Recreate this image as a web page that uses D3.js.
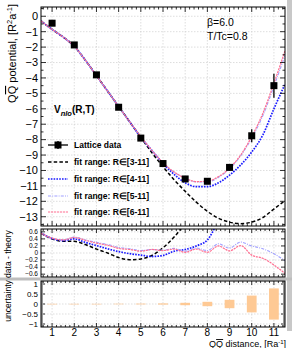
<!DOCTYPE html>
<html><head><meta charset="utf-8">
<script src="https://cdn.jsdelivr.net/npm/d3@7"></script>
<style>
html,body{margin:0;padding:0;background:#fff;}
svg{display:block;font-family:"Liberation Sans",Arial,Helvetica,sans-serif;}
</style></head>
<body>
<svg id="c" width="292" height="348"></svg>
<script>
// ---------- data ----------
const distances = [1,2,3,4,5,6,7,8,9,10,11];
const latticeValues = [-0.45,-1.86,-3.8,-5.9,-7.9,-9.55,-10.55,-10.7,-9.8,-7.75,-4.5];
const latticeErrors = [0.01,0.01,0.01,0.015,0.02,0.03,0.06,0.11,0.21,0.42,0.78];

const fitX = [0.5,1,1.5,2,2.5,3,3.5,4,4.5,5,5.5,6,6.5,7,7.5,8,8.5,9,9.5,10,10.5,11,11.5];
const fit3 = [-0.3,-0.85,-1.35,-1.95,-2.85,-3.85,-4.85,-5.85,-6.85,-7.85,-8.85,-9.75,-10.6,-11.35,-12.05,-12.65,-13.1,-13.35,-13.45,-13.35,-13.05,-12.5,-11.95];
const fit4 = [-0.3,-0.85,-1.35,-1.95,-2.85,-3.85,-4.85,-5.85,-6.85,-7.85,-8.7,-9.55,-10.25,-10.8,-11.05,-11.05,-10.8,-10.3,-9.65,-8.8,-7.7,-6.0,-4.4];
const fit5 = [-0.3,-0.85,-1.35,-1.95,-2.85,-3.85,-4.85,-5.85,-6.85,-7.8,-8.7,-9.5,-10.1,-10.5,-10.75,-10.75,-10.45,-9.9,-9.05,-7.9,-6.45,-4.55,-2.55];
const fit6 = [-0.3,-0.85,-1.35,-1.95,-2.85,-3.85,-4.85,-5.85,-6.85,-7.8,-8.7,-9.5,-10.1,-10.5,-10.72,-10.7,-10.4,-9.85,-9.0,-7.8,-6.3,-4.35,-2.25];

const resX = fitX;
const res3 = [0.56,0.40,0.33,0.33,0.24,0.11,0.0,-0.13,-0.19,-0.17,-0.07,0.15,0.45,0.85,1.3,1.8,2.3,2.8,3.3,3.8,4.3,4.8,5.3];
const res4 = [0.57,0.41,0.35,0.40,0.30,0.21,0.12,0.04,-0.02,-0.06,-0.10,-0.07,0.05,0.10,0.20,0.37,0.9,1.4,1.9,2.4,2.9,3.4,3.9];
const res5 = [0.57,0.42,0.37,0.45,0.37,0.30,0.24,0.16,0.12,0.07,0.10,0.08,0.13,0.05,0.14,0.07,0.26,0.14,0.31,0.20,0.12,-0.02,-0.22];
const res6 = [0.56,0.42,0.37,0.44,0.36,0.28,0.22,0.13,0.10,0.05,0.10,0.07,0.11,0.02,0.11,0.02,0.20,0.06,0.21,-0.06,-0.15,-0.34,-0.58];

const legendLabels = ["Lattice data","fit range: R\u2208[3-11]","fit range: R\u2208[4-11]","fit range: R\u2208[5-11]","fit range: R\u2208[6-11]"];
const mainYTicks = d3.range(-13,1,1);
const resYTicks = [-0.6,-0.4,-0.2,0,0.2,0.4,0.6];
const uncYTicks = [-1,-0.5,0,0.5,1];
const xTicks = d3.range(1,12,1);

// ---------- styles ----------
const fitStyles = [
  {color:"#000000", dash:"3.5,2.2", w:1.5},
  {color:"#1a1aff", dash:"1.6,1.2", w:1.7},
  {color:"#a0a0ff", dash:"3,1.2,1,1.2", w:1.1},
  {color:"#ff6f91", dash:"2.2,0.8", w:1.2}
];

const svg = d3.select("#c");
const L = 41, R = 285;
const x = d3.scaleLinear().domain([0.5,11.5]).range([L,R]);

const yMain = d3.scaleLinear().domain([-13.6,0.6]).range([226,7]);
const yRes = d3.scaleLinear().domain([-0.68,0.68]).range([277,229]);
const yUnc = d3.scaleLinear().domain([-1.15,1.15]).range([327,281]);

// pad borders (grey)
svg.append("rect").attr("x",287).attr("y",0).attr("width",5).attr("height",331).attr("fill","#c8c8c8");
svg.append("rect").attr("x",0).attr("y",277.5).attr("width",292).attr("height",3).attr("fill","#bdbdbd");

function panel(y, yMajor, id){
  const [y1,y0] = y.range();
  const g = svg.append("g");
  g.selectAll(null).data(xTicks).join("line")
    .attr("x1",d=>x(d)).attr("x2",d=>x(d)).attr("y1",y0).attr("y2",y1)
    .attr("stroke","#d0d0d0").attr("stroke-width",0.7).attr("stroke-dasharray","1.5,1.5");
  g.selectAll(null).data(yMajor).join("line")
    .attr("x1",L).attr("x2",R).attr("y1",d=>y(d)).attr("y2",d=>y(d))
    .attr("stroke","#d0d0d0").attr("stroke-width",0.7).attr("stroke-dasharray","1.5,1.5");
  svg.append("clipPath").attr("id",id).append("rect")
    .attr("x",L).attr("y",y0).attr("width",R-L).attr("height",y1-y0);
  return g;
}
function frame(y, yMajor, yMinor, xMinorStep, tMaj, tMin){
  const [y1,y0] = y.range();
  const g = svg.append("g").attr("stroke","#000").attr("stroke-width",0.8);
  const xMin = d3.range(0.6,11.5,xMinorStep).filter(v=>Math.abs(v-Math.round(v))>1e-6);
  xTicks.forEach(v=>{
    g.append("line").attr("x1",x(v)).attr("x2",x(v)).attr("y1",y1).attr("y2",y1-tMaj);
    g.append("line").attr("x1",x(v)).attr("x2",x(v)).attr("y1",y0).attr("y2",y0+tMaj);
  });
  xMin.forEach(v=>{
    g.append("line").attr("x1",x(v)).attr("x2",x(v)).attr("y1",y1).attr("y2",y1-tMin);
    g.append("line").attr("x1",x(v)).attr("x2",x(v)).attr("y1",y0).attr("y2",y0+tMin);
  });
  yMajor.forEach(v=>{
    g.append("line").attr("x1",L).attr("x2",L+tMaj).attr("y1",y(v)).attr("y2",y(v));
    g.append("line").attr("x1",R).attr("x2",R-tMaj).attr("y1",y(v)).attr("y2",y(v));
  });
  yMinor.forEach(v=>{
    g.append("line").attr("x1",L).attr("x2",L+tMin).attr("y1",y(v)).attr("y2",y(v));
    g.append("line").attr("x1",R).attr("x2",R-tMin).attr("y1",y(v)).attr("y2",y(v));
  });
  svg.append("rect").attr("x",L).attr("y",y0).attr("width",R-L).attr("height",y1-y0)
    .attr("fill","none").attr("stroke","#000").attr("stroke-width",1);
}
function yLabels(y, vals, size, fmt){
  svg.append("g").selectAll("text").data(vals).join("text")
    .attr("x",L-3).attr("y",d=>y(d)).attr("dy","0.35em")
    .attr("text-anchor","end").attr("font-size",size).attr("fill","#000")
    .text(fmt);
}
const minus = v=>String(v).replace("-","\u2212");
const line = (xs,ys,yy)=>d3.line().curve(d3.curveMonotoneX).x((d,i)=>x(xs[i])).y((d,i)=>yy(ys[i]))(ys);

// ---------- main panel ----------
panel(yMain, mainYTicks, "clipMain");
const gm = svg.append("g").attr("clip-path","url(#clipMain)");
[fit3,fit4,fit5,fit6].forEach((f,i)=>{
  gm.append("path").attr("d",line(fitX,f,yMain)).attr("fill","none")
    .attr("stroke",fitStyles[i].color).attr("stroke-width",fitStyles[i].w)
    .attr("stroke-dasharray",fitStyles[i].dash);
});
gm.selectAll(null).data(distances).join("line")
  .attr("x1",d=>x(d)).attr("x2",d=>x(d))
  .attr("y1",(d,i)=>yMain(latticeValues[i]-latticeErrors[i]))
  .attr("y2",(d,i)=>yMain(latticeValues[i]+latticeErrors[i]))
  .attr("stroke","#000").attr("stroke-width",1.3);
gm.selectAll(null).data(distances).join("rect")
  .attr("x",d=>x(d)-3.5).attr("y",(d,i)=>yMain(latticeValues[i])-3.5)
  .attr("width",7).attr("height",7).attr("fill","#000");
const mainMinor = d3.range(-13.5,0.6,0.5).filter(v=>Math.abs(v-Math.round(v))>1e-6);
frame(yMain, mainYTicks, mainMinor, 0.2, 5, 2.5);
yLabels(yMain, mainYTicks, 11, minus);

// annotations
svg.append("text").attr("x",207).attr("y",26).attr("font-size",10.5).text("\u03b2=6.0");
svg.append("text").attr("x",207).attr("y",40).attr("font-size",10.5).text("T/Tc=0.8");
const vt = svg.append("text").attr("x",54).attr("y",113).attr("font-size",10).attr("font-weight","bold");
vt.append("tspan").text("V");
vt.append("tspan").attr("dy",2.5).attr("font-size",7.5).attr("font-style","italic").text("nlo");
vt.append("tspan").attr("dy",-2.5).text("(R,T)");

// legend
const legY = [145,162,179,196,212];
const lg = svg.append("g");
lg.append("line").attr("x1",48).attr("x2",68).attr("y1",legY[0]).attr("y2",legY[0]).attr("stroke","#000").attr("stroke-width",1.3);
lg.append("line").attr("x1",58).attr("x2",58).attr("y1",legY[0]-4).attr("y2",legY[0]+4).attr("stroke","#000").attr("stroke-width",1.3);
lg.append("rect").attr("x",54.5).attr("y",legY[0]-3.5).attr("width",7).attr("height",7).attr("fill","#000");
fitStyles.forEach((s,i)=>{
  lg.append("line").attr("x1",48).attr("x2",68).attr("y1",legY[i+1]).attr("y2",legY[i+1])
    .attr("stroke",s.color).attr("stroke-width",s.w).attr("stroke-dasharray",s.dash);
});
lg.selectAll("text").data(legendLabels).join("text")
  .attr("x",74).attr("y",(d,i)=>legY[i]).attr("dy","0.35em")
  .attr("font-size",8.5).attr("font-weight","bold").text(d=>d);

// ---------- residual panel ----------
panel(yRes, resYTicks, "clipRes");
const gr = svg.append("g").attr("clip-path","url(#clipRes)");
[res3,res4,res5,res6].forEach((f,i)=>{
  gr.append("path").attr("d",line(resX,f,yRes)).attr("fill","none")
    .attr("stroke",fitStyles[i].color).attr("stroke-width",fitStyles[i].w)
    .attr("stroke-dasharray",fitStyles[i].dash);
});
frame(yRes, resYTicks, [], 0.2, 4, 2);
yLabels(yRes, resYTicks, 6.5, minus);

// ---------- uncertainty panel ----------
panel(yUnc, uncYTicks, "clipUnc");
const gu = svg.append("g").attr("clip-path","url(#clipUnc)");
gu.selectAll(null).data(distances).join("rect")
  .attr("x",d=>x(d-0.22)).attr("width",d=>x(d+0.22)-x(d-0.22))
  .attr("y",(d,i)=>yUnc(latticeErrors[i])).attr("height",(d,i)=>Math.max(0.6,yUnc(-latticeErrors[i])-yUnc(latticeErrors[i])))
  .attr("fill","#fec994");
const uncMinor = d3.range(-1.1,1.15,0.1).map(v=>+v.toFixed(2)).filter(v=>!uncYTicks.some(t=>Math.abs(t-v)<1e-6));
frame(yUnc, uncYTicks, uncMinor, 0.2, 4, 2);
yLabels(yUnc, uncYTicks, 8, minus);
svg.append("g").selectAll("text").data(xTicks).join("text")
  .attr("x",d=>x(d)).attr("y",335.5).attr("text-anchor","middle").attr("font-size",10).text(d=>d);

// ---------- axis titles ----------
const xt = svg.append("text").attr("x",286).attr("y",347).attr("text-anchor","end").attr("font-size",9);
xt.append("tspan").text("Q");
xt.append("tspan").style("text-decoration","overline").text("Q");
xt.append("tspan").text(" distance, [Ra");
xt.append("tspan").attr("dy",-3.5).attr("font-size",6).text("-1");
xt.append("tspan").attr("dy",3.5).text("]");

const yt = svg.append("text").attr("transform","translate(16,4) rotate(-90)").attr("text-anchor","end").attr("font-size",11);
yt.append("tspan").text("Q");
yt.append("tspan").style("text-decoration","overline").text("Q");
yt.append("tspan").text(" potential, [R");
yt.append("tspan").attr("dy",-4).attr("font-size",7.5).text("2");
yt.append("tspan").attr("dy",4).text("a");
yt.append("tspan").attr("dy",-4).attr("font-size",7.5).text("-1");
yt.append("tspan").attr("dy",4).text("]");

svg.append("text").attr("transform","translate(11,276) rotate(-90)").attr("text-anchor","middle")
  .attr("font-size",8.5).text("uncertainty data - theory");
</script>
</body></html>
